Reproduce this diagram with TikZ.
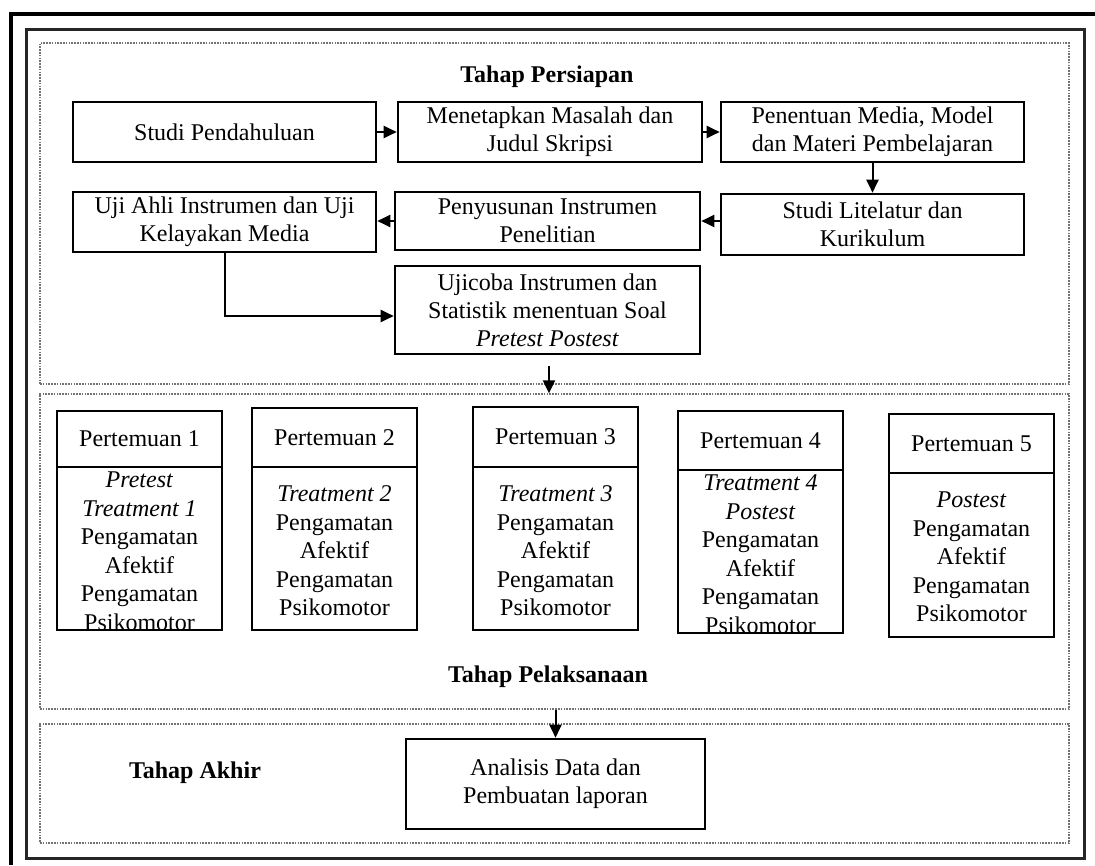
\documentclass[tikz,border=0pt]{standalone}
\usepackage{fontspec}
\setmainfont{Liberation Serif}
\usetikzlibrary{arrows.meta,calc}
\begin{document}
\begin{tikzpicture}[x=1pt,y=-1pt,
  box/.style={draw=black, line width=2.6pt, align=center, inner sep=1pt, minimum height=60pt, font=\fontsize{24}{28}\selectfont},
  plain/.style={draw=none, align=center, inner sep=0pt, font=\fontsize{24}{28.5}\selectfont},
  lbl/.style={draw=none, inner sep=0pt, font=\fontsize{24}{28}\selectfont\bfseries},
  sect/.style={draw=black!55, line width=1.3pt, dash pattern=on 1.6pt off 1.2pt, minimum width=1029pt, inner sep=0pt},
  arr/.style={-{Triangle[length=13pt,width=12pt]}, line width=2pt},
  frame/.style={draw=black, line width=4pt}]
\useasboundingbox (0,0) rectangle (1095,865);
\fill[white] (0,0) rectangle (1095,865);
% outer frames
\draw[frame] (1095,14) -- (11,14) -- (11,865);
\draw[draw=black!85, line width=3pt] (26,29) rectangle (1084,858);
% sections
\node[sect, minimum height=341pt] (s1) at (554.5,213.5) {};
\node[sect, minimum height=315pt] (s2) at (554.5,551.5) {};
\node[sect, minimum height=119pt] (s3) at (554.5,783.5) {};
% Tahap Persiapan
\node[lbl] (l1) at (547,77) {Tahap Persiapan};
\node[box, minimum width=303pt] (sp) at (224.5,132) {Studi Pendahuluan};
\node[box, minimum width=304pt] (mm) at (550,132) {Menetapkan Masalah dan\\Judul Skripsi};
\node[box, minimum width=303pt] (pm) at (872.5,132) {Penentuan Media, Model\\dan Materi Pembelajaran};
\node[box, minimum width=303pt, minimum height=61pt] (sl) at (872.5,224.5) {Studi Litelatur dan\\Kurikulum};
\node[box, minimum width=305pt, minimum height=58pt] (pi) at (547.5,221) {Penyusunan Instrumen\\Penelitian};
\node[box, minimum width=303pt] (ua) at (224.5,222) {Uji Ahli Instrumen dan Uji\\Kelayakan Media};
\node[box, minimum width=305pt, minimum height=88pt] (uc) at (547.5,310) {Ujicoba Instrumen dan\\Statistik menentuan Soal\\\textit{Pretest Postest}};
\draw[arr] (sp.east) -- (mm.west);
\draw[arr] (mm.east) -- (pm.west);
\draw[arr] (pm.south) -- (sl.north);
\draw[arr] (sl.west |- pi.east) -- (pi.east);
\draw[arr] (pi.west) -- (pi.west -| ua.east);
\coordinate (ucin) at ($(uc.west)+(0,6)$);
\draw[arr] (ua.south) |- (ucin);
\coordinate (a2) at ($(uc.south)+(1.5,11)$);
\draw[arr] (a2) -- (a2 |- s2.north);
% Tahap Pelaksanaan
\node[box, minimum width=165pt, minimum height=56pt] (h1) at (139.5,439) {Pertemuan 1};
\node[box, minimum width=165pt, minimum height=163pt] (b1) at (139.5,548.5) {};
\node[plain] (t1) at (139.5,551) {\textit{Pretest}\\\textit{Treatment 1}\\Pengamatan\\Afektif\\Pengamatan\\Psikomotor};
\node[box, minimum width=165pt, minimum height=59pt] (h2) at (334.5,437.5) {Pertemuan 2};
\node[box, minimum width=165pt, minimum height=163pt] (b2) at (334.5,548.5) {};
\node[plain] (t2) at (334.5,551) {\textit{Treatment 2}\\Pengamatan\\Afektif\\Pengamatan\\Psikomotor};
\node[box, minimum width=165pt, minimum height=60pt] (h3) at (555.5,437) {Pertemuan 3};
\node[box, minimum width=165pt, minimum height=163pt] (b3) at (555.5,548.5) {};
\node[plain] (t3) at (555.5,551) {\textit{Treatment 3}\\Pengamatan\\Afektif\\Pengamatan\\Psikomotor};
\node[box, minimum width=165pt, minimum height=59pt] (h4) at (760.5,440.5) {Pertemuan 4};
\node[box, minimum width=165pt, minimum height=163pt] (b4) at (760.5,551.5) {};
\node[plain] (t4) at (760.5,554) {\textit{Treatment 4}\\\textit{Postest}\\Pengamatan\\Afektif\\Pengamatan\\Psikomotor};
\node[box, minimum width=165pt, minimum height=59pt] (h5) at (971.5,443.5) {Pertemuan 5};
\node[box, minimum width=165pt, minimum height=164pt] (b5) at (971.5,555) {};
\node[plain] (t5) at (971.5,557) {\textit{Postest}\\Pengamatan\\Afektif\\Pengamatan\\Psikomotor};
\node[lbl] (l2) at (548,677) {Tahap Pelaksanaan};
% Tahap Akhir
\node[box, minimum width=299pt, minimum height=90pt] (an) at (555.5,784) {Analisis Data dan\\Pembuatan laporan};
\draw[arr] (an.north |- s2.south) -- (an.north);
\node[lbl] (l3) at (195,773) {Tahap Akhir};
\end{tikzpicture}
\end{document}
